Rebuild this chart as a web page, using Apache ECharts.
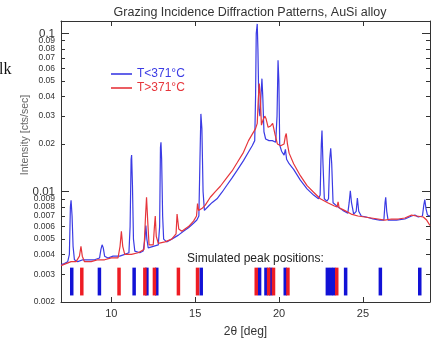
<!DOCTYPE html>
<html><head><meta charset="utf-8">
<script src="https://cdn.jsdelivr.net/npm/echarts@6/dist/echarts.min.js"></script>
<style>html,body{margin:0;padding:0;background:#fff}#c{width:436px;height:339px}</style>
</head><body><div id="c"></div>
<script>
// ---- data ----
const blueData = [
[7.0,0.00345],[7.2,0.0035],[7.4,0.0036],[7.5,0.0040],[7.56,0.0080],[7.6,0.0088],[7.66,0.0070],[7.72,0.0045],[7.8,0.0037],
[8.0,0.0036],[8.3,0.0037],[8.6,0.0037],[9.0,0.0037],[9.3,0.0038],[9.38,0.0043],[9.45,0.0046],[9.52,0.0044],[9.6,0.0039],
[9.8,0.0038],[10.1,0.0039],[10.5,0.0039],[10.8,0.0040],[11.05,0.0041],[11.12,0.0060],[11.18,0.0160],[11.21,0.0170],
[11.26,0.0110],[11.32,0.0050],[11.4,0.0042],[11.7,0.0041],[11.9,0.0042],[12.0,0.0050],[12.06,0.0061],[12.12,0.0050],
[12.2,0.0044],[12.5,0.0045],[12.8,0.0046],[12.88,0.0060],[12.93,0.0190],[12.96,0.0205],[13.0,0.0160],[13.06,0.0070],
[13.12,0.0050],[13.3,0.0048],[13.6,0.0050],[14.0,0.0053],[14.3,0.0056],[14.6,0.0059],[14.9,0.0063],[15.1,0.0066],
[15.22,0.0070],[15.28,0.0150],[15.34,0.0310],[15.4,0.0250],[15.47,0.0100],[15.55,0.0076],[15.8,0.0081],[16.0,0.0085],
[16.3,0.0090],[16.6,0.0099],[16.9,0.0110],[17.2,0.0122],[17.5,0.0136],[17.88,0.0157],[18.18,0.0178],[18.4,0.0195],
[18.55,0.0210],[18.6,0.0400],[18.64,0.1000],[18.7,0.1150],[18.74,0.0800],[18.8,0.0335],[18.86,0.0300],[18.92,0.0400],
[18.98,0.0518],[19.03,0.0400],[19.1,0.0239],[19.2,0.0215],[19.4,0.0210],[19.6,0.0210],[19.8,0.0205],[19.88,0.0300],
[19.94,0.0677],[19.99,0.0500],[20.04,0.0197],[20.15,0.0180],[20.3,0.0170],[20.38,0.0185],[20.45,0.0160],[20.6,0.0150],
[20.87,0.0138],[21.27,0.0118],[21.67,0.0104],[22.06,0.0095],[22.35,0.0090],[22.45,0.0095],[22.52,0.0200],[22.56,0.0243],
[22.62,0.0150],[22.7,0.0090],[22.85,0.0087],[22.95,0.0090],[23.02,0.0160],[23.08,0.0188],[23.14,0.0150],[23.22,0.0085],
[23.5,0.0080],[23.8,0.0076],[24.1,0.0073],[24.18,0.0085],[24.25,0.0101],[24.32,0.0085],[24.45,0.0072],[24.6,0.0075],
[24.67,0.0091],[24.75,0.0075],[24.9,0.0070],[25.2,0.0069],[25.6,0.0067],[26.0,0.0066],[26.25,0.0066],[26.32,0.0085],
[26.36,0.0092],[26.42,0.0075],[26.5,0.0066],[27.0,0.0066],[27.5,0.0067],[27.9,0.0070],[28.1,0.0071],[28.3,0.0069],
[28.55,0.0070],[28.63,0.0082],[28.69,0.0089],[28.76,0.0078],[28.85,0.0071],[29.0,0.0070]
];
const redData = [
[7.0,0.0034],[7.3,0.0035],[7.6,0.0036],[7.9,0.0036],[8.1,0.0039],[8.19,0.0045],[8.27,0.0039],[8.4,0.0036],[8.8,0.0036],
[9.2,0.0037],[9.6,0.0037],[10.0,0.0038],[10.4,0.0038],[10.52,0.0045],[10.6,0.0056],[10.68,0.0045],[10.8,0.0040],
[11.2,0.0040],[11.6,0.0041],[11.95,0.0043],[12.04,0.0070],[12.1,0.0092],[12.17,0.0065],[12.25,0.0046],[12.5,0.0046],
[12.57,0.0060],[12.62,0.0070],[12.68,0.0052],[12.8,0.0047],[13.2,0.0048],[13.6,0.0050],[13.86,0.0054],[13.92,0.0072],
[13.96,0.0074],[14.02,0.0058],[14.2,0.0056],[14.6,0.0060],[14.9,0.0065],[15.08,0.0070],[15.14,0.0084],[15.2,0.0076],
[15.4,0.0078],[15.6,0.0082],[15.9,0.0092],[16.2,0.0100],[16.5,0.0108],[16.9,0.0123],[17.2,0.0135],[17.5,0.0152],
[17.88,0.0177],[18.18,0.0210],[18.45,0.0235],[18.6,0.0250],[18.7,0.0270],[18.76,0.0380],[18.82,0.0483],[18.88,0.0400],
[18.95,0.0263],[19.05,0.0285],[19.15,0.0300],[19.22,0.0290],[19.35,0.0255],[19.5,0.0260],[19.62,0.0270],[19.69,0.0276],
[19.76,0.0230],[19.9,0.0200],[20.1,0.0195],[20.3,0.0200],[20.38,0.0225],[20.43,0.0233],[20.5,0.0200],[20.6,0.0175],
[20.87,0.0150],[21.27,0.0126],[21.67,0.0109],[22.06,0.0099],[22.46,0.0090],[22.9,0.0085],[23.3,0.0081],[23.46,0.0080],
[23.52,0.0086],[23.58,0.0079],[23.9,0.0076],[24.3,0.0072],[24.7,0.0070],[25.1,0.0069],[25.5,0.0068],[25.9,0.0067],
[26.3,0.0066],[26.7,0.0067],[27.1,0.0067],[27.5,0.0068],[27.9,0.0071],[28.2,0.0070],[28.6,0.0069],[28.8,0.0066],[29.0,0.0061]
];
const blueBars = [7.64, 9.29, 11.36, 12.12, 12.71, 15.36, 18.84, 19.22, 19.50, 20.37, 22.88, 23.08, 23.26, 23.97, 26.04, 28.39];
const redBars = [8.24, 10.46, 12.0, 12.57, 14.0, 15.14, 18.64, 19.38, 19.67, 20.53, 23.44];
const barRange = [0.0022, 0.0033];
const xTicks = [10, 15, 20, 25];
const xRange = [7, 29];
const yRange = [0.002, 0.12];
const yTickLabels = ['0.002','0.003','0.004','0.005','0.006','0.007','0.008','0.009','0.01',
                     '0.02','0.03','0.04','0.05','0.06','0.07','0.08','0.09','0.1'];
const yMajorLabels = ['0.01', '0.1'];
const yTopLabels = ['0.1', '0.09'];
const seriesNames = ['T<371°C', 'T>371°C'];

// ---- build ----
const L = Math.log10;
const BLUE = '#3b3be4', RED = '#e6353b', BLUEBAR = '#1212d6', REDBAR = '#ee1c24';
const yTickVals = yTickLabels.map(s => L(parseFloat(s)));
const yMajorVals = yMajorLabels.map(s => L(parseFloat(s)));
const yLowerLabelVals = yTickLabels.filter(s => yTopLabels.indexOf(s) < 0).map(s => L(parseFloat(s)));
const yTopVals = yTopLabels.map(s => [L(parseFloat(s))]);
function labelFor(v) {
  let bi = 0, bd = 1e9;
  yTickVals.forEach((t, i) => { const d = Math.abs(t - v); if (d < bd) { bd = d; bi = i; } });
  const s = yTickLabels[bi];
  return yMajorLabels.indexOf(s) >= 0 ? '{big|' + s + '}' : '{small|' + s + '}';
}
const FONT = 'Liberation Sans, Arial, sans-serif';
const AX = '#333';
const RICH = { big: { fontSize: 11.5, color: '#333' }, small: { fontSize: 8.5, color: '#333' } };
const yBase = { type: 'value', min: L(yRange[0]), max: L(yRange[1]), splitLine: { show: false } };
const xBase = { type: 'value', min: xRange[0], max: xRange[1], splitLine: { show: false } };
function barSeries(xs, color) {
  return {
    type: 'custom', xAxisIndex: 0, yAxisIndex: 0, silent: true, z: 1,
    data: xs.map(x => [x]),
    encode: { x: 0 },
    renderItem: (params, api) => {
      const x = api.value(0);
      const p0 = api.coord([x, L(barRange[0])]);
      const p1 = api.coord([x, L(barRange[1])]);
      return { type: 'rect', shape: { x: p0[0] - 1.75, y: p1[1], width: 3.5, height: p0[1] - p1[1] }, style: { fill: color } };
    }
  };
}
const chart = echarts.init(document.getElementById('c'), null, { renderer: 'canvas' });
chart.setOption({
  animation: false,
  backgroundColor: '#fff',
  textStyle: { fontFamily: FONT },
  title: {
    text: 'Grazing Incidence Diffraction Patterns, AuSi alloy',
    left: 245, textAlign: 'center', top: 1,
    textStyle: { fontSize: 12.5, fontWeight: 'normal', color: '#333', fontFamily: FONT }
  },
  grid: { left: 61, right: 6, top: 21, bottom: 37, containLabel: false, outerBoundsMode: 'none' },
  legend: {
    orient: 'vertical', left: 106, top: 63, itemWidth: 21, itemHeight: 1.6, itemGap: 2,
    icon: 'rect',
    textStyle: { fontSize: 12, fontFamily: FONT },
    data: [
      { name: seriesNames[0], textStyle: { color: BLUE } },
      { name: seriesNames[1], textStyle: { color: RED } }
    ]
  },
  xAxis: [
    { ...xBase, position: 'bottom',
      name: '2θ [deg]', nameLocation: 'middle', nameGap: 24,
      nameTextStyle: { fontSize: 12, color: '#333', fontFamily: FONT },
      axisLine: { show: true, lineStyle: { color: AX } },
      axisTick: { show: true, inside: true, length: 5, customValues: xTicks, lineStyle: { color: AX } },
      axisLabel: { customValues: xTicks, fontSize: 11, color: '#333', margin: 6 } },
    { ...xBase, position: 'top',
      axisLine: { show: true, lineStyle: { color: AX } },
      axisTick: { show: true, inside: true, length: 5, customValues: xTicks, lineStyle: { color: AX } },
      axisLabel: { show: false } }
  ],
  yAxis: [
    { ...yBase, position: 'left',
      axisLine: { show: true, lineStyle: { color: AX } },
      axisTick: { show: true, inside: true, length: 4, customValues: yTickVals, lineStyle: { color: AX } },
      axisLabel: { customValues: yLowerLabelVals, formatter: labelFor, margin: 6, color: '#333', rich: RICH } },
    { ...yBase, position: 'right',
      axisLine: { show: true, lineStyle: { color: AX } },
      axisTick: { show: true, inside: true, length: 4, customValues: yTickVals, lineStyle: { color: AX } },
      axisLabel: { show: false } },
    { ...yBase, position: 'left',
      axisLine: { show: false },
      axisTick: { show: true, inside: true, length: 8, customValues: yMajorVals, lineStyle: { color: AX } },
      axisLabel: { customValues: yTopVals[0], formatter: labelFor, margin: 6, color: '#333', rich: RICH } },
    { ...yBase, position: 'right',
      axisLine: { show: false },
      axisTick: { show: true, inside: true, length: 8, customValues: yMajorVals, lineStyle: { color: AX } },
      axisLabel: { show: false } },
    { ...yBase, position: 'left',
      axisLine: { show: false }, axisTick: { show: false },
      axisLabel: { customValues: yTopVals[1], formatter: labelFor, margin: 6, color: '#333', rich: RICH } }
  ],
  graphic: [
    { type: 'text', left: 187, top: 253, style: { text: 'Simulated peak positions:', fontSize: 12, fill: '#222', fontFamily: FONT } },
    { type: 'text', x: 25, y: 135, rotation: Math.PI / 2,
      style: { text: 'Intensity [cts/sec]', fontSize: 10.5, fill: '#666', fontFamily: FONT, align: 'center', verticalAlign: 'middle' } },
    { type: 'text', left: -1, top: 62, style: { text: 'lk', fontSize: 16, fill: '#111', fontFamily: 'Liberation Serif, serif' } }
  ],
  series: [
    barSeries(blueBars, BLUEBAR),
    barSeries(redBars, REDBAR),
    { name: seriesNames[0], type: 'line', xAxisIndex: 0, yAxisIndex: 0, symbol: 'none', z: 3,
      color: BLUE, lineStyle: { width: 1.2, color: BLUE },
      data: blueData.map(d => [d[0], L(d[1])]) },
    { name: seriesNames[1], type: 'line', xAxisIndex: 0, yAxisIndex: 0, symbol: 'none', z: 4,
      color: RED, lineStyle: { width: 1.2, color: RED },
      data: redData.map(d => [d[0], L(d[1])]) }
  ]
});
</script></body></html>
